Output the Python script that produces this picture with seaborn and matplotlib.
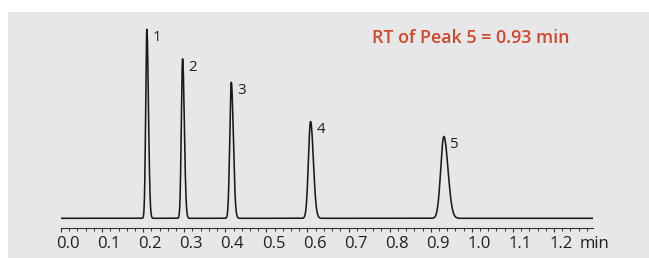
import numpy as np
import pandas as pd
import matplotlib
matplotlib.use("Agg")
import matplotlib.pyplot as plt
from matplotlib.patches import Rectangle
from matplotlib.ticker import MultipleLocator
from matplotlib.transforms import ScaledTranslation
import seaborn as sns

# ---- data ----
peak_labels = ["1", "2", "3", "4", "5"]
retention_min = [0.209, 0.296, 0.4145, 0.6075, 0.932]
peak_heights = [189.0, 159.5, 136.0, 96.8, 81.8]
peak_sigma_min = [0.0033, 0.0036, 0.0043, 0.0060, 0.0088]
tailing = [1.35, 1.35, 1.35, 1.3, 1.3]
tick_values = [0.0, 0.1, 0.2, 0.3, 0.4, 0.5, 0.6, 0.7, 0.8, 0.9, 1.0, 1.1, 1.2]
tick_labels = ["0.0", "0.1", "0.2", "0.3", "0.4", "0.5", "0.6", "0.7", "0.8", "0.9", "1.0", "1.1", "1.2"]
annotation = "RT of Peak 5 = 0.93 min"
x_unit = "min"

# ---- build the trace (sum of slightly tailing peaks) ----
t = np.linspace(0.0, 1.295, 6000)
signal = np.zeros_like(t)
for rt, h, s, tf in zip(retention_min, peak_heights, peak_sigma_min, tailing):
    sl = 2 * s / (1 + tf)
    sr = sl * tf
    sig = np.where(t < rt, sl, sr)
    signal += h * np.exp(-0.5 * ((t - rt) / sig) ** 2)
df = pd.DataFrame({"time": t, "signal": signal})

sns.set_theme(style="white")
plt.rcParams["font.family"] = ["Open Sans", "DejaVu Sans"]

W, H = 649, 258
fig = plt.figure(figsize=(W / 100, H / 100), dpi=100)
fig.patch.set_facecolor("white")
fig.patches.append(Rectangle((8 / W, 0), 1 - 8 / W, 1 - 12 / H,
                             transform=fig.transFigure, facecolor="#e6e7e8",
                             edgecolor="none", zorder=-10))

left_px, right_px = 61, 593
bottom_px, top_px = 228.3, 20
ax = fig.add_axes([left_px / W, (H - bottom_px) / H,
                   (right_px - left_px) / W, (bottom_px - top_px) / H])
ax.patch.set_alpha(0)

sns.lineplot(data=df, x="time", y="signal", ax=ax, color="#1a1a1a",
             linewidth=1.15, estimator=None, sort=False)

ax.set_xlim(0, 1.295)
ax.set_ylim(-10, bottom_px - top_px - 10)
for side in ["left", "right", "top"]:
    ax.spines[side].set_visible(False)
ax.spines["bottom"].set_color("#333333")
ax.spines["bottom"].set_linewidth(0.8)
ax.set_yticks([])
ax.set_xlabel("")
ax.set_ylabel("")
ax.set_xticks(tick_values)
ax.set_xticklabels(tick_labels)
ax.xaxis.set_minor_locator(MultipleLocator(0.02))
tick_len, tick_pad = 3.0, 2.8
ax.tick_params(axis="x", which="major", direction="out", length=tick_len, width=0.8,
               color="#333333", labelsize=12, labelcolor="#231f20", pad=tick_pad, bottom=True)
ax.tick_params(axis="x", which="minor", direction="out", length=1.8, width=0.7,
               color="#333333", bottom=True)
off = ScaledTranslation(7 / 100, 0, fig.dpi_scale_trans)
for lab in ax.get_xticklabels():
    lab.set_transform(lab.get_transform() + off)

# unit label after last tick
ax.annotate(x_unit, xy=(1.2, 0), xycoords=("data", "axes fraction"),
            xytext=(26 / 1.389, -(tick_len + tick_pad)), textcoords="offset points",
            ha="left", va="top", fontsize=12, color="#231f20",
            annotation_clip=False)

# peak numbers
for lab, rt, h in zip(peak_labels, retention_min, peak_heights):
    ax.annotate(lab, xy=(rt, h), xytext=(4.2, -0.6), textcoords="offset points",
                ha="left", va="top", fontsize=10.8, color="#231f20")

fig.text(372 / W, (H - 43.3) / H, annotation, ha="left", va="baseline",
         fontsize=12.9, fontweight="semibold", color="#d0482b")

fig.savefig("out.png", dpi=100)
